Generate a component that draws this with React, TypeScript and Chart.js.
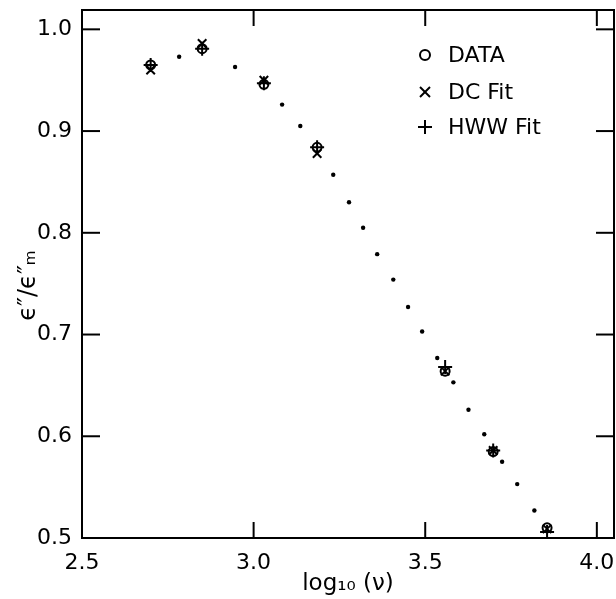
import React, { useEffect, useRef } from "react";
import { Chart, registerables } from "chart.js";

Chart.register(...registerables);

// Measured points (log10 frequency)
const xData = [2.70, 2.85, 3.03, 3.185, 3.558, 3.698, 3.855];
const dataY = [0.965, 0.981, 0.946, 0.884, 0.664, 0.585, 0.510];
const dcFitY = [0.960, 0.986, 0.950, 0.878, 0.664, 0.586, 0.509];
const hwwFitY = [0.965, 0.981, 0.947, 0.884, 0.668, 0.586, 0.506];

// Fitted curve (small dots)
const curveX = [2.783, 2.946, 3.083, 3.136, 3.232, 3.278, 3.319, 3.360, 3.407, 3.450, 3.491, 3.535, 3.582, 3.626, 3.672, 3.724, 3.768, 3.818];
const curveY = [0.973, 0.963, 0.926, 0.905, 0.857, 0.830, 0.805, 0.779, 0.754, 0.727, 0.703, 0.677, 0.653, 0.626, 0.602, 0.575, 0.553, 0.527];

const xTicks = [2.5, 3.0, 3.5, 4.0];
const yTicks = [0.5, 0.6, 0.7, 0.8, 0.9, 1.0];

const legendLabels = ["DATA", "DC Fit", "HWW Fit"];

const FONT = "'DejaVu Sans', sans-serif";

const pts = (xs: number[], ys: number[]) => xs.map((x, i) => ({ x, y: ys[i] }));

const framePlugin = {
  id: "frame",
  afterDraw(chart: any) {
    const { ctx, chartArea } = chart;
    const { left, right, top, bottom } = chartArea;
    const xs = chart.scales.x;
    const ys = chart.scales.y;
    ctx.save();
    ctx.strokeStyle = "#000";
    ctx.lineWidth = 2;
    ctx.strokeRect(left, top, right - left, bottom - top);
    const line = (a: number, b: number, c: number, d: number) => {
      ctx.beginPath();
      ctx.moveTo(a, b);
      ctx.lineTo(c, d);
      ctx.stroke();
    };
    xs.ticks.forEach((t: any) => {
      const px = xs.getPixelForValue(t.value);
      line(px, bottom, px, bottom - 16);
      line(px, top, px, top + 16);
    });
    ys.ticks.forEach((t: any) => {
      const py = ys.getPixelForValue(t.value);
      line(left, py, left + 18, py);
      line(right, py, right - 18, py);
    });
    // legend
    const mx = left + 343;
    const tx = left + 366;
    const rows = [top + 45, top + 82, top + 117];
    ctx.lineWidth = 2;
    ctx.beginPath();
    ctx.arc(mx, rows[0], 5, 0, Math.PI * 2);
    ctx.stroke();
    line(mx - 5, rows[1] - 5, mx + 5, rows[1] + 5);
    line(mx - 5, rows[1] + 5, mx + 5, rows[1] - 5);
    line(mx - 7, rows[2], mx + 7, rows[2]);
    line(mx, rows[2] - 7, mx, rows[2] + 7);
    ctx.fillStyle = "#000";
    ctx.font = `22px ${FONT}`;
    ctx.textBaseline = "middle";
    ctx.textAlign = "left";
    legendLabels.forEach((l, i) => ctx.fillText(l, tx, rows[i] + 1));
    ctx.restore();
  },
};

export default function App() {
  const ref = useRef<HTMLCanvasElement>(null);
  useEffect(() => {
    if (!ref.current) return;
    const chart = new Chart(ref.current, {
      type: "scatter",
      data: {
        datasets: [
          { label: "curve", data: pts(curveX, curveY), pointStyle: "circle", pointRadius: 2.2, backgroundColor: "#000", borderColor: "#000", borderWidth: 0 },
          { label: legendLabels[0], data: pts(xData, dataY), pointStyle: "circle", pointRadius: 4.5, backgroundColor: "rgba(0,0,0,0)", borderColor: "#000", borderWidth: 2 },
          { label: legendLabels[1], data: pts(xData, dcFitY), pointStyle: "crossRot", pointRadius: 6, borderColor: "#000", borderWidth: 2 },
          { label: legendLabels[2], data: pts(xData, hwwFitY), pointStyle: "cross", pointRadius: 7, borderColor: "#000", borderWidth: 2 },
        ],
      },
      options: {
        animation: false,
        responsive: true,
        maintainAspectRatio: false,
        clip: false as any,
        layout: { autoPadding: false, padding: { top: 10, right: 2, left: 0, bottom: 0 } },
        plugins: { legend: { display: false }, tooltip: { enabled: false } },
        scales: {
          x: {
            type: "linear",
            min: 2.5,
            max: 4.05,
            afterBuildTicks: (s: any) => { s.ticks = xTicks.map((v) => ({ value: v })); },
            afterFit: (s: any) => {
              s.height = 61;
              s.paddingLeft = 0; s.paddingRight = 0; s.paddingTop = 0; s.paddingBottom = 0;
            },
            grid: { display: false, drawTicks: false },
            border: { display: false },
            ticks: { padding: 12, color: "#000", font: { family: FONT, size: 22 }, maxRotation: 0, autoSkip: false, callback: (v: any) => Number(v).toFixed(1) },
            title: { display: true, text: "log₁₀ (ν)", color: "#000", font: { family: FONT, size: 23, lineHeight: 1 }, padding: { top: 0, bottom: 3 } },
          },
          y: {
            type: "linear",
            min: 0.5,
            max: 1.019,
            afterBuildTicks: (s: any) => { s.ticks = yTicks.map((v) => ({ value: v })); },
            afterFit: (s: any) => {
              s.width = 82;
              s.paddingLeft = 0; s.paddingRight = 0; s.paddingTop = 0; s.paddingBottom = 0;
            },
            grid: { display: false, drawTicks: false },
            border: { display: false },
            ticks: { padding: 10, color: "#000", font: { family: FONT, size: 22 }, autoSkip: false, callback: (v: any) => Number(v).toFixed(1) },
            title: { display: true, text: "ϵ″/ϵ″ₘ   ", color: "#000", font: { family: FONT, size: 24, lineHeight: 1.2 }, padding: { top: 14, bottom: 0 } },
          },
        },
      },
      plugins: [framePlugin],
    });
    return () => chart.destroy();
  }, []);
  return (
    <div style={{ position: "absolute", left: 0, top: 0, width: 616, height: 599, background: "#fff" }}>
      <canvas ref={ref} />
    </div>
  );
}
